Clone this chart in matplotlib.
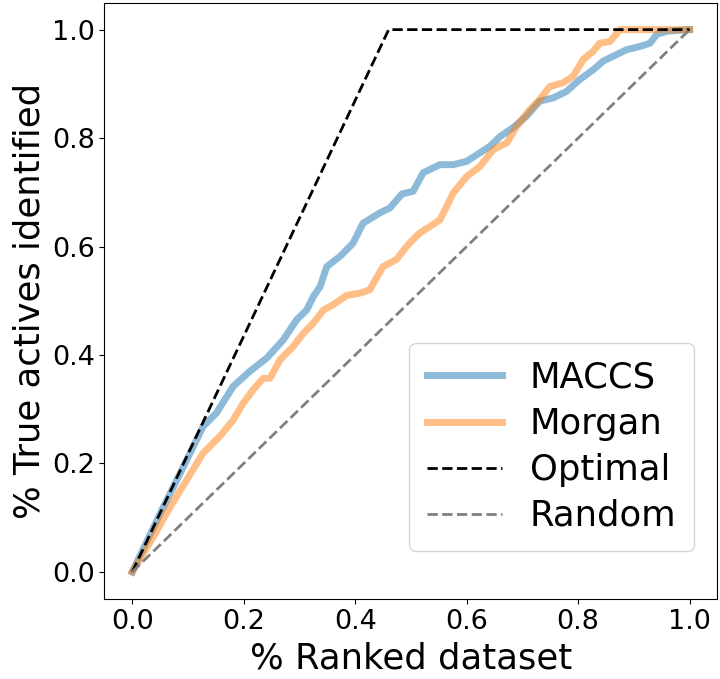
import matplotlib
matplotlib.use("Agg")
import matplotlib.pyplot as plt

maccs_x = [0, 0.053, 0.086, 0.127, 0.151, 0.181, 0.211, 0.241, 0.271, 0.295, 0.313, 0.325,
           0.337, 0.349, 0.373, 0.396, 0.414, 0.444, 0.462, 0.484, 0.504, 0.522, 0.552, 0.576,
           0.600, 0.618, 0.642, 0.660, 0.683, 0.707, 0.731, 0.755, 0.779, 0.803, 0.827, 0.845,
           0.863, 0.887, 0.911, 0.929, 0.941, 0.959, 1.0]
maccs_y = [0, 0.114, 0.182, 0.268, 0.293, 0.342, 0.370, 0.394, 0.428, 0.465, 0.483, 0.508,
           0.526, 0.563, 0.582, 0.606, 0.643, 0.662, 0.671, 0.697, 0.702, 0.736, 0.751, 0.751,
           0.757, 0.769, 0.785, 0.803, 0.819, 0.840, 0.868, 0.874, 0.886, 0.908, 0.926, 0.942,
           0.951, 0.963, 0.969, 0.975, 0.991, 0.997, 1.0]

morgan_x = [0, 0.038, 0.068, 0.098, 0.127, 0.157, 0.181, 0.199, 0.217, 0.235, 0.247, 0.265,
            0.289, 0.307, 0.325, 0.343, 0.361, 0.385, 0.408, 0.426, 0.438, 0.450, 0.474, 0.492,
            0.504, 0.516, 0.534, 0.552, 0.576, 0.600, 0.624, 0.648, 0.672, 0.690, 0.713, 0.731,
            0.749, 0.773, 0.791, 0.809, 0.827, 0.839, 0.857, 0.875, 1.0]
morgan_y = [0, 0.065, 0.120, 0.170, 0.219, 0.250, 0.280, 0.311, 0.336, 0.357, 0.357, 0.391,
            0.416, 0.440, 0.459, 0.483, 0.493, 0.510, 0.514, 0.520, 0.542, 0.563, 0.576, 0.600,
            0.613, 0.625, 0.637, 0.649, 0.699, 0.729, 0.748, 0.779, 0.791, 0.822, 0.852, 0.871,
            0.895, 0.902, 0.914, 0.945, 0.960, 0.975, 0.978, 1.0, 1.0]

optimal_x = [0, 0.46, 1.0]
optimal_y = [0, 1.0, 1.0]
random_x = [0, 1.0]
random_y = [0, 1.0]

ticks = [0.0, 0.2, 0.4, 0.6, 0.8, 1.0]

fig = plt.figure(figsize=(7.2, 6.79), dpi=100)
ax = fig.add_axes([0.145, 0.1178, 0.8515, 0.8785])

ax.plot(maccs_x, maccs_y, color="tab:blue", alpha=0.5, lw=5, label="MACCS")
ax.plot(morgan_x, morgan_y, color="tab:orange", alpha=0.5, lw=5, label="Morgan")
ax.plot(optimal_x, optimal_y, color="black", ls="--", lw=2, label="Optimal")
ax.plot(random_x, random_y, color="gray", ls="--", lw=2, label="Random")

ax.set_xlim(-0.05, 1.05)
ax.set_ylim(-0.05, 1.05)
ax.set_xticks(ticks)
ax.set_yticks(ticks)
ax.tick_params(labelsize=19.5)
ax.set_xlabel("% Ranked dataset", fontsize=25.5, labelpad=5)
ax.set_ylabel("% True actives identified", fontsize=25.5)

ax.legend(loc="lower right", bbox_to_anchor=(0.962, 0.081), borderaxespad=0,
          fontsize=25.5, handlelength=2.1, labelspacing=0.34, borderpad=0.5)

fig.savefig("out.png", dpi=100)
